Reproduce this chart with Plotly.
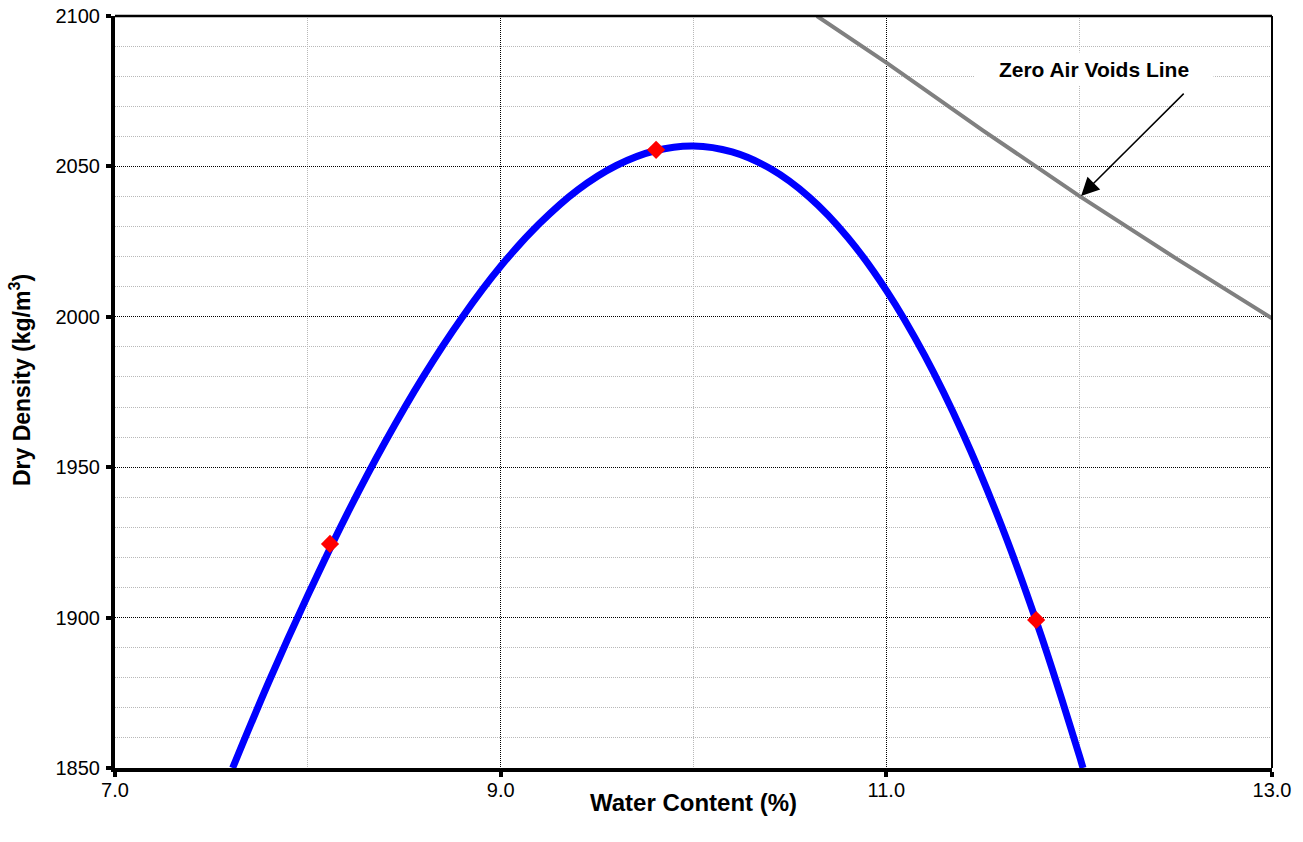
import plotly.graph_objects as go

# Fitted compaction curve
curve_w = [7.61, 7.8, 8.0, 8.2, 8.4, 8.6, 8.8, 9.0, 9.2, 9.4, 9.6, 9.8, 10.0,
           10.2, 10.4, 10.6, 10.8, 11.0, 11.2, 11.4, 11.6, 11.8, 12.0, 12.02]
curve_rho = [1850, 1879, 1907.4, 1934, 1958.3, 1980.3, 1999.8, 2016.8, 2030.9, 2042.2, 2050.3, 2055.2, 2056.8,
             2054.8, 2049.2, 2039.8, 2026.4, 2008.8, 1987, 1960.8, 1930.1, 1894.6, 1854.3, 1850]

# Test points
test_w = [8.115, 9.806, 11.777]
test_rho = [1924.5, 2055.5, 1899.2]

# Zero air voids line
zav_w = [10.64, 11.0, 11.5, 12.0, 12.5, 13.0]
zav_rho = [2100, 2084.5, 2062, 2040.2, 2019.5, 1999.5]

x_ticks = [7.0, 9.0, 11.0, 13.0]
y_ticks = [1850, 1900, 1950, 2000, 2050, 2100]

FONT = "Liberation Sans, Arial, sans-serif"

fig = go.Figure()
fig.add_trace(go.Scatter(x=zav_w, y=zav_rho, mode="lines",
                         line=dict(color="#808080", width=4), showlegend=False, hoverinfo="skip"))
fig.add_trace(go.Scatter(x=curve_w, y=curve_rho, mode="lines",
                         line=dict(color="#0000FF", width=7, shape="spline", smoothing=1.0),
                         showlegend=False))
fig.add_trace(go.Scatter(x=test_w, y=test_rho, mode="markers",
                         marker=dict(symbol="diamond", color="#FF0000", size=14),
                         showlegend=False))

fig.update_layout(
    width=1303, height=842,
    margin=dict(l=115, r=31, t=16, b=74, autoexpand=False),
    paper_bgcolor="white", plot_bgcolor="white",
    font=dict(family=FONT, color="black", size=20),
    xaxis=dict(range=[7, 13], tickvals=x_ticks, ticktext=[f"{v:.1f}" for v in x_ticks],
               automargin=False,
               showgrid=True, gridcolor="#000000", griddash="1px,1px", gridwidth=1,
               minor=dict(dtick=1, tick0=7, showgrid=True, gridcolor="#b8b8b8", griddash="1px,1px", gridwidth=1, ticks=""),
               showline=True, linecolor="black", linewidth=4, mirror=False,
               ticks="outside", ticklen=5, tickwidth=4, tickcolor="black",
               ticklabelstandoff=-4,
               zeroline=False, tickfont=dict(size=20)),
    yaxis=dict(range=[1850, 2100], tickvals=y_ticks,
               automargin=False,
               showgrid=True, gridcolor="#000000", griddash="1px,1px", gridwidth=1,
               minor=dict(dtick=10, tick0=1850, showgrid=True, gridcolor="#b8b8b8", griddash="1px,1px", gridwidth=1, ticks=""),
               showline=True, linecolor="black", linewidth=4, mirror=False,
               ticks="outside", ticklen=5, tickwidth=4, tickcolor="black",
               ticklabelstandoff=2,
               zeroline=False, tickfont=dict(size=20)),
    shapes=[
        dict(type="line", xref="paper", yref="paper", x0=0, x1=1, y0=1, y1=1,
             line=dict(color="black", width=2.5)),
        dict(type="line", xref="paper", yref="paper", x0=1, x1=1, y0=0, y1=1,
             line=dict(color="black", width=2)),
    ],
    annotations=[
        dict(text="<b>Water Content (%)</b>", xref="paper", yref="paper", x=0.5, y=-0.0465,
             xanchor="center", yanchor="middle", showarrow=False, font=dict(size=24)),
        dict(text="<b>Dry Density (kg/m<sup>3</sup>)</b>", xref="paper", yref="paper", x=-0.082, y=0.516,
             xanchor="center", yanchor="middle", textangle=-90, showarrow=False, font=dict(size=23)),
        dict(text="<b>Zero Air Voids Line</b>", xref="x", yref="y", x=12.078, y=2082.3,
             xanchor="center", yanchor="middle", showarrow=False, bgcolor="white",
             width=236, height=30, font=dict(size=21)),
        dict(text="", xref="x", yref="y", x=12.01, y=2040.2, axref="x", ayref="y",
             ax=12.55, ay=2074.7, showarrow=True, arrowhead=2, arrowsize=2.4,
             arrowwidth=1.5, arrowcolor="black"),
    ],
)

fig.write_html("out.html", config={"displayModeBar": False},
               post_script="document.body.style.margin='0';document.body.style.overflow='hidden';")
